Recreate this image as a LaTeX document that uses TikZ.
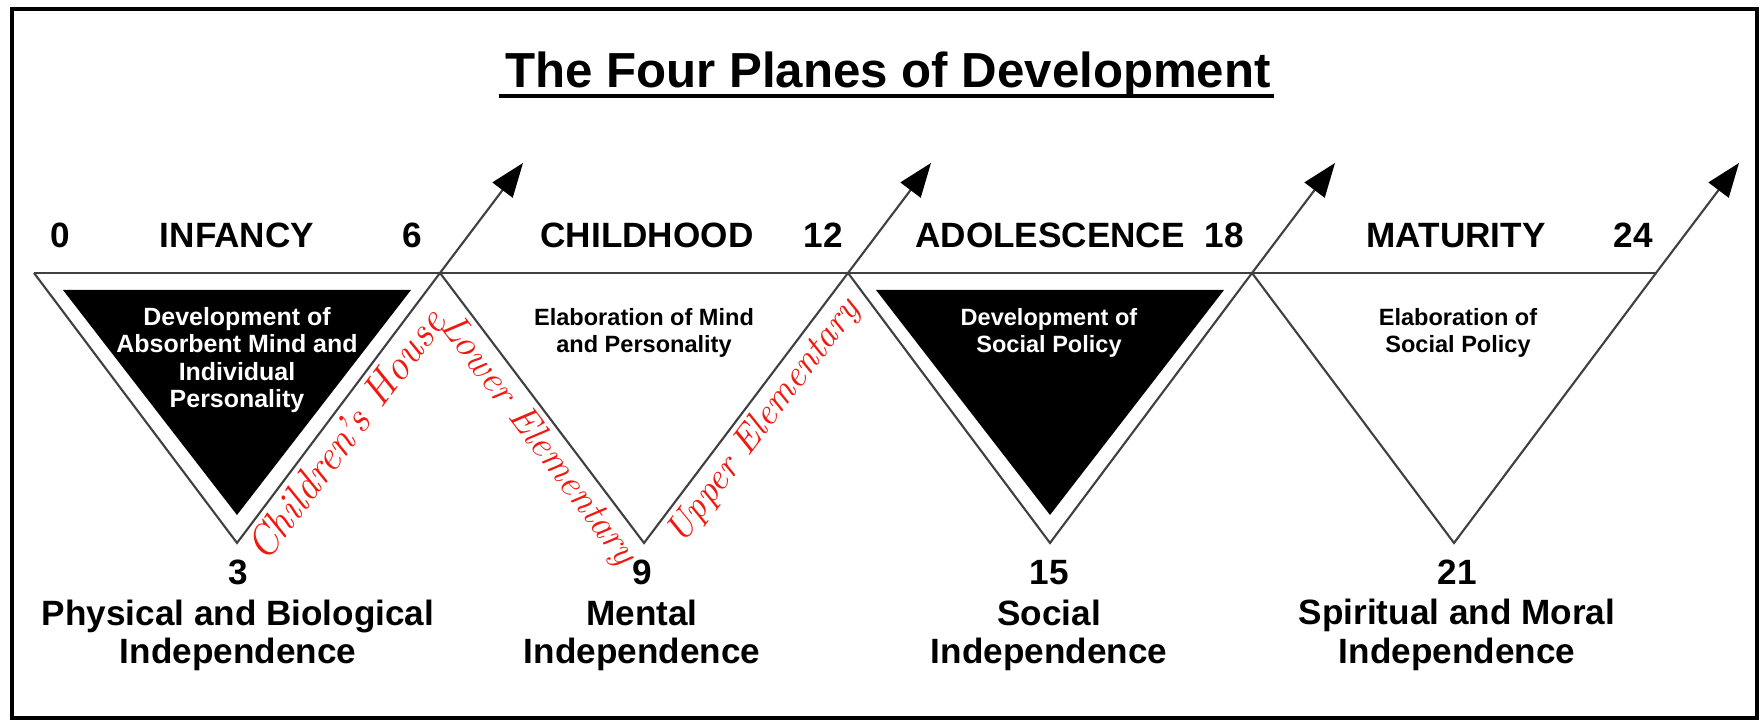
\documentclass[tikz,border=0pt]{standalone}
\usepackage{fontspec}
\setsansfont{Liberation Sans}
\usetikzlibrary{arrows.meta,positioning}

\definecolor{pen}{RGB}{240,25,15}
\tikzset{
	lbl/.style={font=\sffamily\bfseries\fontsize{10}{12}\selectfont, inner sep=0pt, anchor=base},
	aim/.style={font=\sffamily\bfseries\fontsize{6.7}{7.7}\selectfont, align=center, inner sep=0pt},
	indep/.style={font=\sffamily\bfseries\fontsize{10}{11}\selectfont, align=center, inner sep=0pt},
	school/.style={font=\rmfamily\itshape\fontsize{11}{12}\selectfont, text=pen, inner sep=1.5pt, sloped, anchor=north},
	rim/.style={draw=black!75, line width=0.6pt},
}

\begin{document}
\begin{tikzpicture}
		\useasboundingbox (0,0) rectangle (17.61,7.23);
		\draw[line width=1.2pt] (0.12,0.05) rectangle (17.57,7.14);
		
		\newcommand\devplane[4]{ %% argument 1: left corner, argument 2: bottom corner, argument 3: right corner, argument 4: arrow tip
			\draw[rim, -{Triangle[length=3.4mm,width=2.5mm,black]}] (#1) -- (#2) -- (#3) -- (#4);
		}
		
		\coordinate (v0) at (0.34,4.5);
		\coordinate (v1) at (4.40,4.5);
		\coordinate (v2) at (8.48,4.5);
		\coordinate (v3) at (12.52,4.5);
		\coordinate (v4) at (16.56,4.5);
		\coordinate (a1) at (2.37,1.8);
		\coordinate (a2) at (6.44,1.8);
		\coordinate (a3) at (10.50,1.8);
		\coordinate (a4) at (14.54,1.8);
		\coordinate (t1) at (5.23,5.6);
		\coordinate (t2) at (9.31,5.6);
		\coordinate (t3) at (13.35,5.6);
		\coordinate (t4) at (17.39,5.6);
		
		% black inner triangles
		\fill (a1) ++(0,0.28) -- ++(-1.74,2.25) -- ++(3.48,0) -- cycle;
		\fill (a3) ++(0,0.28) -- ++(-1.74,2.25) -- ++(3.48,0) -- cycle;
		
		\draw[rim] (v0) -- (v4);
		\devplane{v0}{a1}{v1}{t1}
		\devplane{v1}{a2}{v2}{t2}
		\devplane{v2}{a3}{v3}{t3}
		\devplane{v3}{a4}{v4}{t4}
		
		\node[font=\sffamily\bfseries\fontsize{14}{16}\selectfont, inner sep=0pt, anchor=base] (title) at (8.88,6.35) {The Four Planes of Development};
		\draw[line width=0.9pt] ([shift={(-0.6mm,-0.8mm)}]title.base west) -- ([shift={(0.3mm,-0.8mm)}]title.base east);
		
		\node[lbl] (age0) at (0.60,4.75) {0};
		\node[lbl] (infancy) at (2.37,4.75) {INFANCY};
		\node[lbl] (age6) at (4.12,4.75) {6};
		\node[lbl] (childhood) at (6.47,4.75) {CHILDHOOD};
		\node[lbl] (age12) at (8.23,4.75) {12};
		\node[lbl] (adolescence) at (10.50,4.75) {ADOLESCENCE};
		\node[lbl] (age18) at (12.24,4.75) {18};
		\node[lbl] (maturity) at (14.56,4.75) {MATURITY};
		\node[lbl] (age24) at (16.33,4.75) {24};
		
		\node[aim, text=white, font=\sffamily\bfseries\fontsize{7.1}{7.8}\selectfont] (aim1) at (2.37,3.63) {Development of\\Absorbent Mind and\\Individual\\Personality};
		\node[aim] (aim2) at (6.44,3.905) {Elaboration of Mind\\and Personality};
		\node[aim, text=white] (aim3) at (10.49,3.905) {Development of\\Social Policy};
		\node[aim] (aim4) at (14.58,3.905) {Elaboration of\\Social Policy};
		
		\node[lbl] (age3) at (2.38,1.38) {3};
		\node[lbl] (age9) at (6.42,1.38) {9};
		\node[lbl] (age15) at (10.49,1.38) {15};
		\node[lbl] (age21) at (14.57,1.38) {21};
		\node[indep, below=1.3mm of age3] (indep3) {Physical and Biological\\Independence};
		\node[indep, below=1.3mm of age9] (indep9) {Mental\\Independence};
		\node[indep, below=1.3mm of age15] (indep15) {Social\\Independence};
		\node[indep, below=1.3mm of age21] (indep21) {Spiritual and Moral\\Independence};
		
		% handwritten school levels
		\path (a1) -- node[school, pos=0.45, font=\rmfamily\itshape\fontsize{12}{13}\selectfont] (house) {Children's House} (v1);
		\path (v1) -- node[school, pos=0.57] (lower) {Lower Elementary} (a2);
		\path (a2) -- node[school, pos=0.5, font=\rmfamily\itshape\fontsize{10.6}{12}\selectfont] (upper) {Upper Elementary} (v2);
	\end{tikzpicture}
\end{document}
